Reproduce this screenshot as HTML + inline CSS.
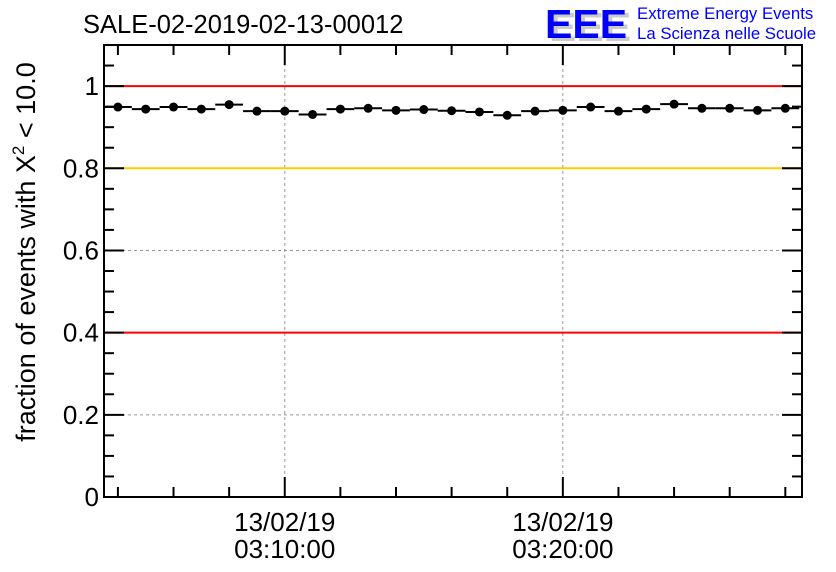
<!DOCTYPE html>
<html><head><meta charset="utf-8"><style>
body{margin:0;background:#fff;}
svg{display:block;font-family:"Liberation Sans",sans-serif;}
</style></head><body>
<svg id="chart" width="836" height="572" viewBox="0 0 836 572">
<rect width="836" height="572" fill="#fff"/>
<text x="83" y="33" font-size="25.5">SALE-02-2019-02-13-00012</text>
<g font-weight="bold" font-size="41">
<text x="549" y="41" fill="#ccc">EEE</text>
<text x="545" y="38" fill="#0000ff">EEE</text>
</g>
<text x="637" y="19" font-size="16.8" fill="#0000ff">Extreme Energy Events</text>
<text x="637" y="39" font-size="16.8" fill="#0000ff">La Scienza nelle Scuole</text>
<text transform="translate(35,252) rotate(-90)" text-anchor="middle" font-size="27">fraction of events with X<tspan dy="-11" font-size="17">2</tspan><tspan dy="11"> &lt; 10.0</tspan></text>
<g id="grid"></g><g id="refs"></g><g id="marks"></g><g id="axes"></g>
</svg>
<script>
const binCenters=[4,5,6,7,8,9,10,11,12,13,14,15,16,17,18,19,20,21,22,23,24,25,26,27,28];
const fractions=[0.949,0.944,0.949,0.944,0.955,0.939,0.939,0.931,0.944,0.946,0.941,0.943,0.940,0.937,0.929,0.939,0.941,0.949,0.939,0.944,0.956,0.946,0.946,0.941,0.946];
const yTicks=[0,0.2,0.4,0.6,0.8,1];
const yTickLabels=["0","0.2","0.4","0.6","0.8","1"];
const xMajor=[10,20];
const xLabelDates=["13/02/19","13/02/19"];
const xLabelTimes=["03:10:00","03:20:00"];
const refValues=[1,0.8,0.4];
const refColors=["#ff0000","#ffcc00","#ff0000"];
const L=104,R=802,T=45,B=497,XMIN=3.5,XMAX=28.6,YMIN=0,YMAX=1.1;
const X=v=>L+(v-XMIN)/(XMAX-XMIN)*(R-L);
const Y=v=>B-(v-YMIN)/(YMAX-YMIN)*(B-T);
const NS="http://www.w3.org/2000/svg";
function mk(tag,parent,attrs){const e=document.createElementNS(NS,tag);for(const k in attrs)e.setAttribute(k,attrs[k]);parent.appendChild(e);return e;}
const grid=document.getElementById('grid'),refs=document.getElementById('refs'),marks=document.getElementById('marks'),axes=document.getElementById('axes');
yTicks.forEach(v=>{if(v>0){const g=mk('line',grid,{x1:L,x2:R,y1:Y(v),y2:Y(v),stroke:'#999','stroke-dasharray':'3,3'});

}});
xMajor.forEach(v=>{const g=mk('line',grid,{x1:X(v),x2:X(v),y1:T,y2:B,stroke:'#999','stroke-dasharray':'3,3'});

});
refValues.forEach((v,i)=>{const l=mk('line',refs,{x1:L,x2:R,y1:Y(v),y2:Y(v),stroke:refColors[i],'stroke-width':2});

});
binCenters.forEach((c,i)=>{const v=fractions[i];
const h=mk('line',marks,{x1:X(c-0.5),x2:X(c+0.5),y1:Y(v),y2:Y(v),stroke:'#000','stroke-width':2});


const p=mk('circle',marks,{cx:X(c),cy:Y(v),r:4.5,fill:'#000'});

});
const fr=mk('rect',axes,{x:L,y:T,width:R-L,height:B-T,fill:'none',stroke:'#000','stroke-width':2});


for(let v=0;v<=1.1001;v+=0.05){const major=Math.abs(v/0.2-Math.round(v/0.2))<1e-6;const len=major?20:10;
const a=mk('line',axes,{x1:L,x2:L+len,y1:Y(v),y2:Y(v),stroke:'#000','stroke-width':2});


const b=mk('line',axes,{x1:R,x2:R-len,y1:Y(v),y2:Y(v),stroke:'#000','stroke-width':2});

}
yTicks.forEach((v,i)=>{const t=mk('text',axes,{x:L-5,y:Y(v)+9,'text-anchor':'end','font-size':26});t.textContent=yTickLabels[i];

});
for(let m=4;m<=28;m+=2){const major=(m%10===0);const len=major?20:10;
const a=mk('line',axes,{x1:X(m),x2:X(m),y1:B,y2:B-len,stroke:'#000','stroke-width':2});


const b=mk('line',axes,{x1:X(m),x2:X(m),y1:T,y2:T+len,stroke:'#000','stroke-width':2});

}
xMajor.forEach((m,i)=>{const t1=mk('text',axes,{x:X(m),y:531,'text-anchor':'middle','font-size':26});t1.textContent=xLabelDates[i];


const t2=mk('text',axes,{x:X(m),y:558,'text-anchor':'middle','font-size':26});t2.textContent=xLabelTimes[i];

});
</script>
</body></html>
